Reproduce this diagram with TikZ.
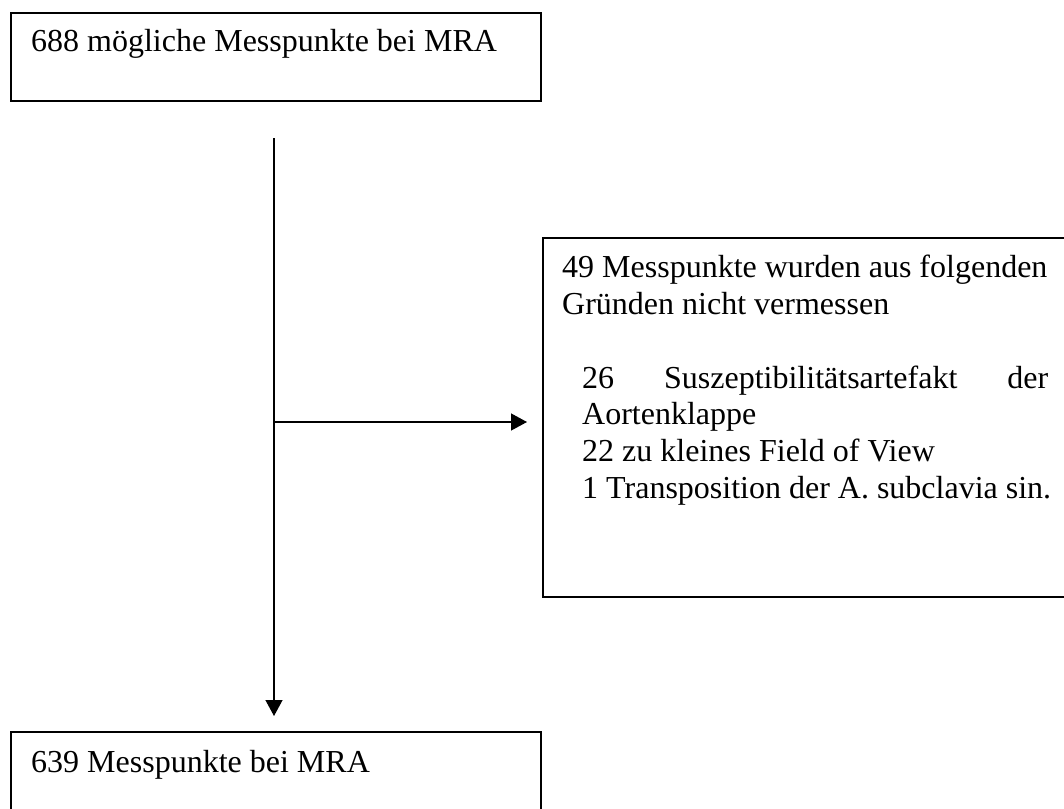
\documentclass[tikz,border=0pt]{standalone}
\usepackage{fontspec}
\setmainfont{Liberation Serif}
\usetikzlibrary{arrows.meta}
\begin{document}
\begin{tikzpicture}[x=1pt,y=-1pt,
  boxline/.style={draw=black,line width=2pt},
  txt/.style={anchor=base west,inner sep=0pt,font=\fontsize{32}{37}\selectfont},
  conn/.style={line width=1.3pt,-{Triangle[length=16pt,width=17pt]}}]
\useasboundingbox (0,0) rectangle (1064,808);
% boxes
\node[boxline,anchor=north west,minimum width=530pt,minimum height=88pt,inner sep=0pt] (top) at (10,12) {};
\node[boxline,anchor=north west,minimum width=530pt,minimum height=359pt,inner sep=0pt] (right) at (542,237) {};
\node[boxline,anchor=north west,minimum width=530pt,minimum height=100pt,inner sep=0pt] (bottom) at (10,731) {};
% texts
\node[txt] (t1) at (31,52) {688 mögliche Messpunkte bei MRA};
\node[txt] (r1) at (562,277) {49 Messpunkte wurden aus folgenden};
\node[txt] (r2) at (562,314) {Gründen nicht vermessen};
\node[txt] (r3) at (582,388) {\hbox to 466pt{26\hfill Suszeptibilitätsartefakt\hfill der}};
\node[txt] (r4) at (582,424) {Aortenklappe};
\node[txt] (r5) at (582,461) {22 zu kleines Field of View};
\node[txt] (r6) at (582,498) {1 Transposition der A. subclavia sin.};
\node[txt] (b1) at (31,772) {639 Messpunkte bei MRA};
% connectors
\coordinate (vstart) at (274,138);
\coordinate (branch) at (274,422);
\draw[conn, shorten >=15pt] (vstart) -- (vstart |- bottom.north);
\draw[conn, shorten >=15pt] (branch) -- (branch -| right.west);
\end{tikzpicture}
\end{document}
